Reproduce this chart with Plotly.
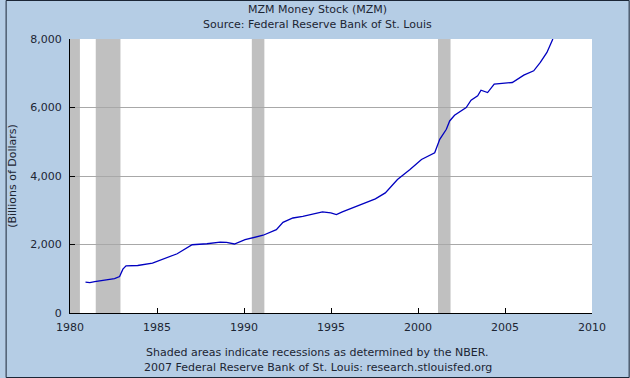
import plotly.graph_objects as go

years = [1980.89, 1981.14, 1981.42, 1981.99, 1982.56, 1982.85, 1983.04, 1983.22, 1983.89, 1984.74,
         1985.12, 1986.16, 1987.02, 1987.87, 1988.63, 1989.0, 1989.45, 1990.06, 1991.1, 1991.86,
         1992.24, 1992.81, 1993.38, 1994.13, 1994.51, 1994.99, 1995.31, 1995.65, 1996.22, 1996.98,
         1997.55, 1998.12, 1998.59, 1998.82, 1999.54, 2000.2, 2000.96, 2001.25, 2001.63, 2001.82,
         2002.1, 2002.77, 2003.05, 2003.43, 2003.62, 2004.0, 2004.38, 2005.42, 2006.08, 2006.65,
         2007.03, 2007.41, 2007.75]
mzm = [900, 888, 918, 967, 1005, 1064, 1280, 1377, 1387, 1455,
       1533, 1729, 1993, 2022, 2070, 2060, 2015, 2139, 2270, 2432,
       2646, 2774, 2823, 2921, 2950, 2921, 2872, 2950, 3067, 3214,
       3331, 3507, 3751, 3897, 4190, 4483, 4680, 5070, 5363, 5607,
       5773, 6000, 6212, 6339, 6505, 6437, 6681, 6730, 6945, 7071,
       7316, 7609, 8000]

rec_start = [1980.0, 1981.48, 1990.45, 2001.15]
rec_end = [1980.57, 1982.9, 1991.17, 2001.87]

x_ticks = [1980, 1985, 1990, 1995, 2000, 2005, 2010]
y_ticks = [0, 2000, 4000, 6000, 8000]
y_labels = ["0", "2,000", "4,000", "6,000", "8,000"]

FONT = "DejaVu Sans, Verdana, sans-serif"
TXT = "#1c2533"

fig = go.Figure()
fig.add_trace(go.Scatter(x=years, y=mzm, mode="lines",
                         line=dict(color="#0000c0", width=1.3), showlegend=False,
                         hoverinfo="skip"))

for s, e in zip(rec_start, rec_end):
    fig.add_shape(type="rect", xref="x", yref="paper", x0=s, x1=e, y0=0, y1=1,
                  fillcolor="#c0c0c0", line_width=0, layer="between")

W, H = 630, 378
ml, mr, mt, mb = 65, 38, 39, 65
pw, ph = W - ml - mr, H - mt - mb

# outer border
fig.add_shape(type="rect", xref="paper", yref="paper",
              x0=-ml / pw + 0.5 / pw, x1=1 + (mr - 0.5) / pw,
              y0=-mb / ph + 0.5 / ph, y1=1 + (mt - 0.5) / ph,
              line=dict(color="#1b2636", width=1), fillcolor="rgba(0,0,0,0)", layer="above")

fig.update_layout(
    width=W, height=H,
    margin=dict(l=ml, r=mr, t=mt, b=mb),
    paper_bgcolor="#b5cde5", plot_bgcolor="white",
    font=dict(family=FONT, size=11, color=TXT),
    xaxis=dict(range=[1980, 2010], tickvals=x_ticks, ticktext=[str(v) for v in x_ticks],
               showgrid=False, zeroline=False, showline=True, linecolor="black", linewidth=1,
               ticks="inside", ticklen=5, tickcolor="black", ticklabelstandoff=4,
               tickfont=dict(size=11, color=TXT)),
    yaxis=dict(range=[0, 8000], tickvals=y_ticks, ticktext=y_labels,
               showgrid=True, gridcolor="#a8a8a8", gridwidth=1, zeroline=False,
               showline=True, linecolor="black", linewidth=1,
               ticks="inside", ticklen=5, tickcolor="black", ticklabelstandoff=5,
               tickfont=dict(size=11, color=TXT),
               title=dict(text="(Billions of Dollars)", font=dict(size=11, color=TXT), standoff=11)),
    annotations=[
        dict(text="MZM Money Stock (MZM)", xref="paper", yref="paper",
             x=(W / 2 - ml) / pw, y=1 + (mt - 10) / ph, showarrow=False,
             xanchor="center", yanchor="middle", font=dict(size=11, color=TXT)),
        dict(text="Source: Federal Reserve Bank of St. Louis", xref="paper", yref="paper",
             x=(W / 2 - ml) / pw, y=1 + (mt - 24) / ph, showarrow=False,
             xanchor="center", yanchor="middle", font=dict(size=11, color=TXT)),
        dict(text="Shaded areas indicate recessions as determined by the NBER.", xref="paper", yref="paper",
             x=(W / 2 - ml) / pw, y=-(352 - (H - mb)) / ph, showarrow=False,
             xanchor="center", yanchor="middle", font=dict(size=11, color=TXT)),
        dict(text="2007 Federal Reserve Bank of St. Louis: research.stlouisfed.org", xref="paper", yref="paper",
             x=(W / 2 - ml) / pw, y=-(367 - (H - mb)) / ph, showarrow=False,
             xanchor="center", yanchor="middle", font=dict(size=11, color=TXT)),
    ],
)

fig.write_html("out.html", config={"displayModeBar": False},
               post_script="document.body.style.margin='0';document.body.style.overflow='hidden';")
